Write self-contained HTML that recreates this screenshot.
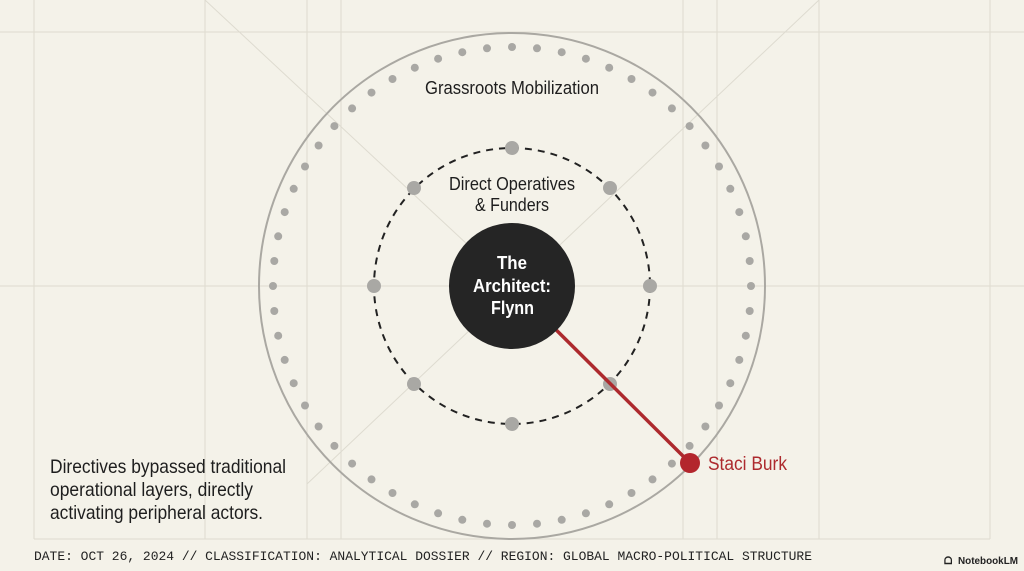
<!DOCTYPE html>
<html><head><meta charset="utf-8"><style>
html,body{margin:0;padding:0;background:#f4f2e9;}
body{width:1024px;height:571px;overflow:hidden;position:relative;}
svg{position:absolute;left:0;top:0;}
.n{font-family:"Liberation Sans",sans-serif;}
</style></head><body>
<svg width="1024" height="571" viewBox="0 0 1024 571">
<g stroke="#dedbd0" stroke-width="1" fill="none">
<line x1="0" y1="32" x2="1024" y2="32"/>
<line x1="0" y1="286" x2="1024" y2="286"/>
<line x1="34" y1="0" x2="34" y2="539"/>
<line x1="990" y1="0" x2="990" y2="539"/>
<line x1="34" y1="539" x2="990" y2="539"/>
<line x1="205" y1="0" x2="205" y2="539"/>
<line x1="307" y1="0" x2="307" y2="539"/>
<line x1="341" y1="0" x2="341" y2="539"/>
<line x1="683" y1="0" x2="683" y2="539"/>
<line x1="717" y1="0" x2="717" y2="539"/>
<line x1="819" y1="0" x2="819" y2="539"/>
<line x1="205" y1="0" x2="512" y2="286"/>
<line x1="819" y1="0" x2="307" y2="484"/>
</g>
<circle cx="512" cy="286" r="253" fill="none" stroke="#aaa8a2" stroke-width="2"/>
<g id="dots" fill="#a9a8a4"></g>
<circle cx="512" cy="286" r="138" fill="none" stroke="#222" stroke-width="2" stroke-dasharray="7,6"/>
<g fill="#a9a8a4">
<circle cx="512" cy="148" r="7"/><circle cx="512" cy="424" r="7"/>
<circle cx="374" cy="286" r="7"/><circle cx="650" cy="286" r="7"/>
<circle cx="414" cy="188" r="7"/><circle cx="610" cy="188" r="7"/>
<circle cx="414" cy="384" r="7"/><circle cx="610" cy="384" r="7"/>
</g>
<line x1="512" y1="286" x2="690" y2="463" stroke="#ad2a2e" stroke-width="3.5"/>
<circle cx="512" cy="286" r="63" fill="#252525"/>
<circle cx="690" cy="463" r="10" fill="#b3262d"/>
<g class="n" font-size="18" fill="#1e1e1e" lengthAdjust="spacingAndGlyphs">
<text x="425" y="94" textLength="174" lengthAdjust="spacingAndGlyphs">Grassroots Mobilization</text>
<text x="449" y="190" textLength="126" lengthAdjust="spacingAndGlyphs">Direct Operatives</text>
<text x="475" y="211" textLength="74" lengthAdjust="spacingAndGlyphs">&amp; Funders</text>
</g>
<g class="n" font-size="18" font-weight="bold" fill="#fff">
<text x="497" y="269" textLength="30" lengthAdjust="spacingAndGlyphs">The</text>
<text x="473" y="292" textLength="78" lengthAdjust="spacingAndGlyphs">Architect:</text>
<text x="491" y="314" textLength="43" lengthAdjust="spacingAndGlyphs">Flynn</text>
</g>
<text class="n" x="708" y="470" font-size="19" fill="#ad2a2e" textLength="79" lengthAdjust="spacingAndGlyphs">Staci Burk</text>
<g class="n" font-size="19.5" fill="#1e1e1e">
<text x="50" y="473" textLength="236" lengthAdjust="spacingAndGlyphs">Directives bypassed traditional</text>
<text x="50" y="496" textLength="203" lengthAdjust="spacingAndGlyphs">operational layers, directly</text>
<text x="50" y="519" textLength="213" lengthAdjust="spacingAndGlyphs">activating peripheral actors.</text>
</g>
<text x="34" y="560" font-family="Liberation Mono,monospace" font-size="13" fill="#222" textLength="778" lengthAdjust="spacingAndGlyphs">DATE: OCT 26, 2024 // CLASSIFICATION: ANALYTICAL DOSSIER // REGION: GLOBAL MACRO-POLITICAL STRUCTURE</text>
<text x="958" y="564" font-family="Liberation Sans,sans-serif" font-size="10.5" font-weight="bold" fill="#222" textLength="60" lengthAdjust="spacingAndGlyphs">NotebookLM</text>
<text x="944" y="564" font-family="Liberation Sans,sans-serif" font-size="10" font-weight="bold" fill="#222">ᗝ</text>
</svg>
<script>
var g=document.getElementById('dots'),s='';
for(var i=0;i<60;i++){var a=i*Math.PI*2/60;var x=512+239*Math.sin(a),y=286-239*Math.cos(a);
s+='<circle cx="'+x.toFixed(1)+'" cy="'+y.toFixed(1)+'" r="4"/>';}
g.innerHTML=s;
</script>
</body></html>
